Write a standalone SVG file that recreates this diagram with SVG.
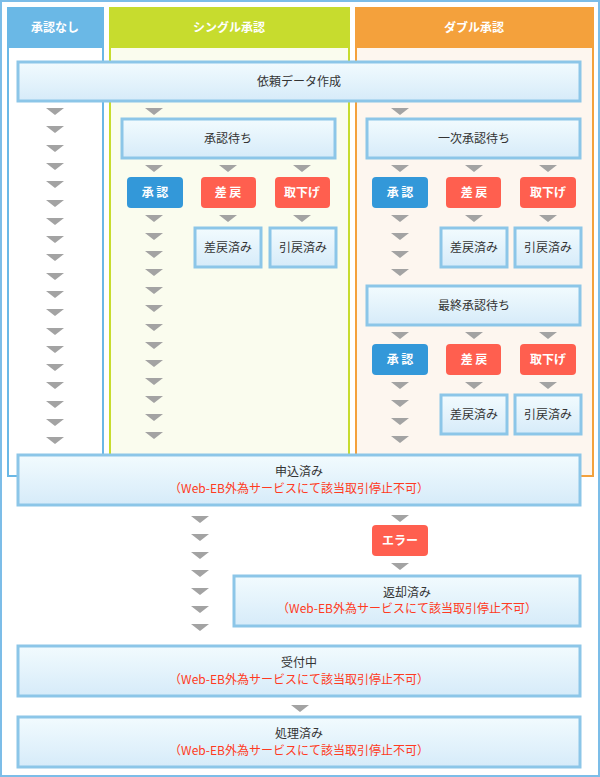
<svg xmlns="http://www.w3.org/2000/svg" width="600" height="777" viewBox="0 0 600 777">
<defs>
<linearGradient id="bg" x1="0" y1="0" x2="0" y2="1"><stop offset="0" stop-color="#f2fbfe"/><stop offset="1" stop-color="#d6ebf9"/></linearGradient>
<path id="ar" d="M-9,0 H9 L0,7 Z" fill="#a3a3a3"/>
</defs>
<style>
text{font-family:"Noto Sans CJK JP","Noto Sans",sans-serif;font-size:12px;text-anchor:middle;fill:#333}
.box{fill:url(#bg);stroke:#8cc6e8;stroke-width:3}
.hd{fill:#fff;font-weight:bold}
.red{fill:#ff3a22}
.bb{fill:#3398d9}
.rb{fill:#ff5f4f}
.bt{fill:#fff;font-weight:bold}
</style>
<rect x="1" y="1" width="598" height="775" fill="#fff" stroke="#7cbde8" stroke-width="2"/>
<g id="col1"><rect x="8" y="8" width="95" height="468" fill="#fff" stroke="#6ab8e6" stroke-width="2"/><rect x="7" y="7" width="97" height="41" fill="#6ab8e6"/><text class="hd" x="55" y="32">承認なし</text></g>
<g id="col2"><rect x="110" y="8" width="239" height="468" fill="#fafcee" stroke="#c7dc2e" stroke-width="2"/><rect x="109" y="7" width="241" height="41" fill="#c7dc2e"/><text class="hd" x="229" y="32">シングル承認</text></g>
<g id="col3"><rect x="356" y="8" width="237" height="468" fill="#fdf6ef" stroke="#f4a13c" stroke-width="2"/><rect x="355" y="7" width="239" height="41" fill="#f4a13c"/><text class="hd" x="474" y="32">ダブル承認</text></g>
<g id="connectors">
<use href="#ar" x="55" y="108"/><use href="#ar" x="55" y="126"/><use href="#ar" x="55" y="145"/><use href="#ar" x="55" y="163"/><use href="#ar" x="55" y="181"/><use href="#ar" x="55" y="200"/><use href="#ar" x="55" y="218"/><use href="#ar" x="55" y="236"/><use href="#ar" x="55" y="254"/><use href="#ar" x="55" y="273"/><use href="#ar" x="55" y="291"/><use href="#ar" x="55" y="309"/><use href="#ar" x="55" y="328"/><use href="#ar" x="55" y="346"/><use href="#ar" x="55" y="364"/><use href="#ar" x="55" y="382"/><use href="#ar" x="55" y="401"/><use href="#ar" x="55" y="419"/><use href="#ar" x="55" y="437"/>
<use href="#ar" x="154" y="108"/><use href="#ar" x="400" y="108"/>
<use href="#ar" x="154" y="165"/><use href="#ar" x="228" y="165"/><use href="#ar" x="302" y="165"/>
<use href="#ar" x="400" y="165"/><use href="#ar" x="474" y="165"/><use href="#ar" x="548" y="165"/>
<use href="#ar" x="228" y="215"/><use href="#ar" x="302" y="215"/><use href="#ar" x="474" y="215"/><use href="#ar" x="548" y="215"/>
<use href="#ar" x="154" y="215"/><use href="#ar" x="154" y="233"/><use href="#ar" x="154" y="251"/><use href="#ar" x="154" y="269"/><use href="#ar" x="154" y="287"/><use href="#ar" x="154" y="305"/><use href="#ar" x="154" y="324"/><use href="#ar" x="154" y="342"/><use href="#ar" x="154" y="360"/><use href="#ar" x="154" y="378"/><use href="#ar" x="154" y="396"/><use href="#ar" x="154" y="414"/><use href="#ar" x="154" y="432"/>
<use href="#ar" x="400" y="215"/><use href="#ar" x="400" y="233"/><use href="#ar" x="400" y="251"/><use href="#ar" x="400" y="269"/>
<use href="#ar" x="400" y="332"/><use href="#ar" x="474" y="332"/><use href="#ar" x="548" y="332"/>
<use href="#ar" x="474" y="382"/><use href="#ar" x="548" y="382"/>
<use href="#ar" x="400" y="382"/><use href="#ar" x="400" y="400"/><use href="#ar" x="400" y="418"/><use href="#ar" x="400" y="436"/>
<use href="#ar" x="200" y="516"/><use href="#ar" x="200" y="534"/><use href="#ar" x="200" y="552"/><use href="#ar" x="200" y="570"/><use href="#ar" x="200" y="588"/><use href="#ar" x="200" y="606"/><use href="#ar" x="200" y="624"/>
<use href="#ar" x="400" y="515"/><use href="#ar" x="400" y="563"/><use href="#ar" x="300" y="705"/>
</g>
<g id="n-irai"><rect class="box" x="18" y="62" width="562" height="39"/><text x="299" y="86">依頼データ作成</text></g>
<g id="n-wait1"><rect class="box" x="122" y="119" width="213" height="39"/><text x="228" y="143">承認待ち</text></g>
<g id="n-s-ok"><rect class="bb" x="127" y="177" width="56" height="31" rx="4"/><text class="bt" x="155" y="197">承 認</text></g>
<g id="n-s-back"><rect class="rb" x="201" y="177" width="55" height="31" rx="4"/><text class="bt" x="228" y="197">差 戻</text></g>
<g id="n-s-wd"><rect class="rb" x="275" y="177" width="55" height="31" rx="4"/><text class="bt" x="302" y="197">取下げ</text></g>
<g id="n-s-backd"><rect class="box" x="195" y="228" width="66" height="39"/><text x="228" y="252">差戻済み</text></g>
<g id="n-s-wdd"><rect class="box" x="270" y="228" width="66" height="39"/><text x="303" y="252">引戻済み</text></g>
<g id="n-wait2"><rect class="box" x="367" y="119" width="213" height="39"/><text x="474" y="143">一次承認待ち</text></g>
<g id="n-d1-ok"><rect class="bb" x="372" y="177" width="56" height="31" rx="4"/><text class="bt" x="400" y="197">承 認</text></g>
<g id="n-d1-back"><rect class="rb" x="446" y="177" width="55" height="31" rx="4"/><text class="bt" x="474" y="197">差 戻</text></g>
<g id="n-d1-wd"><rect class="rb" x="520" y="177" width="56" height="31" rx="4"/><text class="bt" x="548" y="197">取下げ</text></g>
<g id="n-d1-backd"><rect class="box" x="441" y="228" width="66" height="39"/><text x="474" y="252">差戻済み</text></g>
<g id="n-d1-wdd"><rect class="box" x="515" y="228" width="66" height="39"/><text x="548" y="252">引戻済み</text></g>
<g id="n-wait3"><rect class="box" x="367" y="286" width="213" height="39"/><text x="474" y="310">最終承認待ち</text></g>
<g id="n-d2-ok"><rect class="bb" x="372" y="344" width="56" height="31" rx="4"/><text class="bt" x="400" y="364">承 認</text></g>
<g id="n-d2-back"><rect class="rb" x="446" y="344" width="55" height="31" rx="4"/><text class="bt" x="474" y="364">差 戻</text></g>
<g id="n-d2-wd"><rect class="rb" x="520" y="344" width="56" height="31" rx="4"/><text class="bt" x="548" y="364">取下げ</text></g>
<g id="n-d2-backd"><rect class="box" x="441" y="395" width="66" height="39"/><text x="474" y="419">差戻済み</text></g>
<g id="n-d2-wdd"><rect class="box" x="515" y="395" width="66" height="39"/><text x="548" y="419">引戻済み</text></g>
<g id="n-apply"><rect class="box" x="18" y="455" width="562" height="50"/><text x="299" y="476">申込済み</text><text class="red" x="299" y="493">（Web-EB外為サービスにて該当取引停止不可）</text></g>
<g id="n-err"><rect class="rb" x="372" y="525" width="56" height="31" rx="4"/><text class="bt" x="400" y="545">エラー</text></g>
<g id="n-ret"><rect class="box" x="234" y="576" width="346" height="50"/><text x="407" y="597">返却済み</text><text class="red" x="407" y="613">（Web-EB外為サービスにて該当取引停止不可）</text></g>
<g id="n-recv"><rect class="box" x="18" y="646" width="562" height="50"/><text x="299" y="667">受付中</text><text class="red" x="299" y="684">（Web-EB外為サービスにて該当取引停止不可）</text></g>
<g id="n-done"><rect class="box" x="18" y="717" width="562" height="50"/><text x="299" y="738">処理済み</text><text class="red" x="299" y="755">（Web-EB外為サービスにて該当取引停止不可）</text></g>
</svg>
